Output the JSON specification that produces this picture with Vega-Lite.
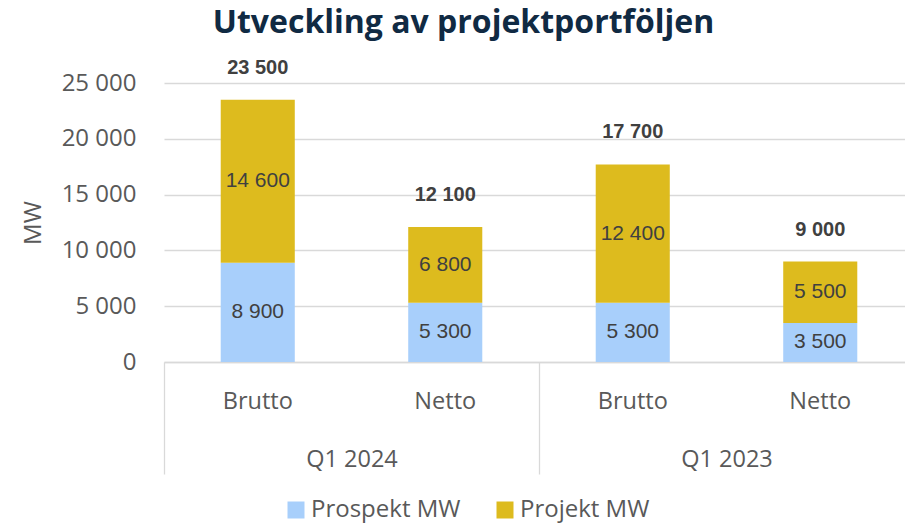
{
  "$schema": "https://vega.github.io/schema/vega-lite/v6.json",
  "width": 741,
  "height": 279,
  "autosize": {"type": "none"},
  "padding": {"left": 164, "top": 83, "right": 0, "bottom": 164},
  "config": {
    "view": {"stroke": null},
    "font": "Open Sans",
    "locale": {"number": {"decimal": ",", "thousands": " ", "grouping": [3], "currency": ["", " kr"]}}
  },
  "title": {
    "text": "Utveckling av projektportföljen",
    "fontSize": 32,
    "fontWeight": "bold",
    "font": "Open Sans",
    "color": "#102A43",
    "anchor": "middle",
    "frame": "group",
    "dx": -71,
    "offset": 18
  },
  "data": {
    "values": [
      {"key": "Q1 2024|Brutto", "quarter": "Q1 2024", "series": "Prospekt MW", "value": 8900},
      {"key": "Q1 2024|Brutto", "quarter": "Q1 2024", "series": "Projekt MW", "value": 14600},
      {"key": "Q1 2024|Netto", "quarter": "Q1 2024", "series": "Prospekt MW", "value": 5300},
      {"key": "Q1 2024|Netto", "quarter": "Q1 2024", "series": "Projekt MW", "value": 6800},
      {"key": "Q1 2023|Brutto", "quarter": "Q1 2023", "series": "Prospekt MW", "value": 5300},
      {"key": "Q1 2023|Brutto", "quarter": "Q1 2023", "series": "Projekt MW", "value": 12400},
      {"key": "Q1 2023|Netto", "quarter": "Q1 2023", "series": "Prospekt MW", "value": 3500},
      {"key": "Q1 2023|Netto", "quarter": "Q1 2023", "series": "Projekt MW", "value": 5500}
    ]
  },
  "transform": [
    {"stack": "value", "groupby": ["key"], "sort": [{"field": "series", "order": "descending"}], "as": ["v0", "v1"]},
    {"calculate": "(datum.v0 + datum.v1) / 2", "as": "mid"}
  ],
  "layer": [
    {
      "layer": [
        {
          "mark": {"type": "bar"},
          "encoding": {
            "x": {
              "field": "key",
              "type": "nominal",
              "sort": ["Q1 2024|Brutto", "Q1 2024|Netto", "Q1 2023|Brutto", "Q1 2023|Netto"],
              "scale": {"range": [0, 750], "paddingInner": 0.605, "paddingOuter": 0.3025},
              "axis": {
                "orient": "bottom",
                "title": null,
                "labelExpr": "split(datum.value, '|')[1]",
                "labelAngle": 0,
                "labelFontSize": 23.5,
                "labelColor": "#595959",
                "labelPadding": 27.5,
                "ticks": false,
                "domain": true,
                "domainColor": "#d9d9d9",
                "domainWidth": 1.3,
                "grid": false
              }
            },
            "y": {
              "field": "v0",
              "type": "quantitative",
              "scale": {"domain": [0, 25000], "nice": false},
              "axis": {
                "title": "MW",
                "titleFontSize": 24,
                "titleFontWeight": "normal",
                "titleColor": "#595959",
                "titlePadding": 16,
                "labelFontSize": 24,
                "labelColor": "#595959",
                "labelPadding": 28,
                "domain": false,
                "ticks": false,
                "grid": true,
                "gridColor": "#d9d9d9",
                "gridWidth": 1.3,
                "values": [0, 5000, 10000, 15000, 20000, 25000],
                "format": ",.0f"
              }
            },
            "y2": {"field": "v1"},
            "color": {
              "field": "series",
              "type": "nominal",
              "sort": ["Prospekt MW", "Projekt MW"],
              "scale": {"domain": ["Prospekt MW", "Projekt MW"], "range": ["#A8CFFB", "#DDBB1E"]},
              "legend": {
                "orient": "none",
                "legendX": 120,
                "legendY": 415,
                "direction": "horizontal",
                "title": null,
                "symbolType": "square",
                "symbolSize": 289,
                "symbolStrokeWidth": 0,
                "labelFontSize": 24,
                "labelColor": "#595959",
                "labelOffset": 3,
                "columnPadding": 32
              }
            }
          }
        },
        {
          "mark": {"type": "text", "font": "Liberation Sans", "fontSize": 21, "color": "#404040", "baseline": "middle"},
          "encoding": {
            "x": {"field": "key", "type": "nominal", "sort": ["Q1 2024|Brutto", "Q1 2024|Netto", "Q1 2023|Brutto", "Q1 2023|Netto"]},
            "y": {"field": "mid", "type": "quantitative"},
            "text": {"field": "value", "type": "quantitative", "format": ",.0f"}
          }
        },
        {
          "transform": [{"aggregate": [{"op": "sum", "field": "value", "as": "total"}], "groupby": ["key"]}],
          "mark": {"type": "text", "font": "Liberation Sans", "fontSize": 20, "fontWeight": "bold", "color": "#404040", "baseline": "middle", "dy": -32},
          "encoding": {
            "x": {"field": "key", "type": "nominal", "sort": ["Q1 2024|Brutto", "Q1 2024|Netto", "Q1 2023|Brutto", "Q1 2023|Netto"]},
            "y": {"field": "total", "type": "quantitative"},
            "text": {"field": "total", "type": "quantitative", "format": ",.0f"}
          }
        }
      ]
    },
    {
      "mark": {"type": "point", "opacity": 0, "size": 0},
      "encoding": {
        "x": {
          "field": "quarter",
          "type": "nominal",
          "sort": ["Q1 2024", "Q1 2023"],
          "scale": {"type": "band", "range": [0, 750], "paddingInner": 0, "paddingOuter": 0},
          "axis": {
            "orient": "bottom",
            "title": null,
            "domain": false,
            "ticks": true,
            "tickBand": "extent",
            "tickSize": 112,
            "tickColor": "#d9d9d9",
            "tickWidth": 1.3,
            "labelPadding": -27,
            "labelAngle": 0,
            "labelFontSize": 23.5,
            "labelColor": "#595959",
            "grid": false
          }
        }
      }
    }
  ],
  "resolve": {"scale": {"x": "independent"}, "axis": {"x": "independent"}}
}
